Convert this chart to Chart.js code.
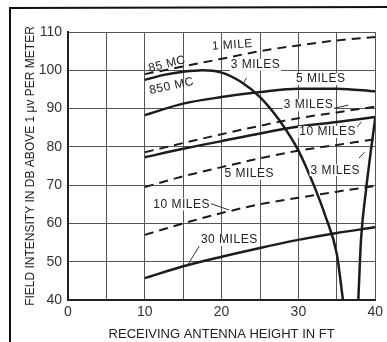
<!DOCTYPE html>
<html>
<head>
<meta charset="utf-8">
<script src="https://cdn.jsdelivr.net/npm/chart.js@4.4.1/dist/chart.umd.min.js"></script>
<style>
  html, body { margin: 0; padding: 0; background: #fff; }
  #wrap { width: 387px; height: 342px; }
</style>
</head>
<body>
<div id="wrap"><canvas id="myChart" width="387" height="342"></canvas></div>
<script>
// antenna height (ft) for the smooth curves
var heights = [10, 15, 20, 25, 30, 35, 40];

// 85 MC (dashed)
var oneMile85 = [99, 101, 103, 105, 106.5, 107.8, 108.7];
var threeMiles85 = [78.6, 81, 83.3, 85.5, 87.5, 89, 90.5];
var fiveMiles85 = [69.5, 72.3, 74.7, 77, 79, 80.5, 82];
var tenMiles85 = [57, 60, 62.7, 65, 66.7, 68.3, 69.8];

// 850 MC (solid)
var fiveMiles850 = [88.3, 91.3, 93, 94.3, 95.2, 95.2, 94.5];
var tenMiles850 = [77.3, 79.5, 81.5, 83.5, 85.3, 86.5, 87.8];
var thirtyMiles850 = [45.7, 48.8, 51.3, 53.6, 55.7, 57.5, 59];

// 3 miles at 850 MC lobes, null near 37 ft
var lobeHeights = [10, 12.5, 15, 17.5, 20, 22.5, 25, 27.5, 30, 32, 33.5, 35, 35.8, 37, 37.8, 38.15, 38.8, 39.45, 40];
var threeMiles850 = [97.5, 98.8, 99.6, 100, 99.4, 97, 93, 87, 79, 70, 62, 52, 40, null, 40, 55.7, 68.7, 79.2, 87.5];

// tick labels
var xTicks = [0, 10, 20, 30, 40];
var yTicks = [40, 50, 60, 70, 80, 90, 100, 110];

// curve labels on the plot (in ft / dB)
var noteText = ['1 MILE', '85 MC', '850 MC', '3 MILES', '5 MILES', '3 MILES', '10 MILES', '3 MILES', '5 MILES', '10 MILES', '30 MILES'];
var noteX = [21.4, 12.9, 13.5, 24.4, 32.9, 31.3, 33.8, 34.8, 23.6, 14.8, 21];
var noteY = [106.6, 101.6, 95.9, 101.4, 97.7, 90.9, 83.9, 73.9, 72.9, 65, 55.7];
var noteRot = [-4, -14, -12, 0, 0, 0, 0, 0, 0, 0, 0];

// little pointer lines from labels to curves
var arrowFrom = [[23.25, 98.0], [34.7, 90.1], [37.5, 84.9], [37.9, 77.1], [18.4, 65.3], [17.1, 54.1]];
var arrowTo = [[22.86, 96.7], [36.5, 90.9], [38.2, 86.5], [38.6, 78.6], [21.0, 63.5], [15.5, 48.9]];

function pts(xs, ys) {
    return xs.map(function (x, i) { return { x: x, y: ys[i] }; });
}

var ink = '#1c1c1c';

function line(label, xs, ys, dashed) {
    return {
        label: label,
        data: pts(xs, ys),
        borderColor: ink,
        borderWidth: dashed ? 2 : 2.5,
        borderDash: dashed ? [9, 6] : [],
        pointRadius: 0,
        fill: false,
        spanGaps: false,
        cubicInterpolationMode: 'monotone'
    };
}

var paperPlugin = {
    id: 'paper',
    beforeDraw: function (chart) {
        var c = chart.ctx;
        c.save();
        c.fillStyle = '#fff';
        c.fillRect(0, 0, chart.width, chart.height);
        c.strokeStyle = '#111';
        c.lineWidth = 2;
        c.beginPath();
        c.moveTo(10, chart.height);
        c.lineTo(10, 8);
        c.lineTo(chart.width, 7);
        c.stroke();
        c.restore();
    },
    afterDatasetsDraw: function (chart) {
        var c = chart.ctx;
        var xs = chart.scales.x, ys = chart.scales.y;
        c.save();
        c.strokeStyle = '#333';
        c.lineWidth = 1;
        arrowFrom.forEach(function (a, i) {
            var b = arrowTo[i];
            c.beginPath();
            c.moveTo(xs.getPixelForValue(a[0]), ys.getPixelForValue(a[1]));
            c.lineTo(xs.getPixelForValue(b[0]), ys.getPixelForValue(b[1]));
            c.stroke();
        });
        c.font = '12px "Liberation Sans", Arial, sans-serif';
        c.letterSpacing = '0.5px';
        c.textAlign = 'center';
        c.textBaseline = 'middle';
        noteText.forEach(function (t, i) {
            var px = xs.getPixelForValue(noteX[i]);
            var py = ys.getPixelForValue(noteY[i]);
            c.save();
            c.translate(px, py);
            c.rotate(noteRot[i] * Math.PI / 180);
            var w = c.measureText(t).width;
            if (noteRot[i] === 0) {
                c.fillStyle = '#fff';
                c.fillRect(-w / 2 - 1, -6, w + 2, 12);
            }
            c.fillStyle = '#222';
            c.fillText(t, 0, 0);
            c.restore();
        });
        c.restore();
    }
};

var ctx = document.getElementById('myChart');

var graphique = new Chart(ctx.getContext('2d'), {
    type: 'line',
    data: {
        datasets: [
            line('1 mile 85 MC', heights, oneMile85, true),
            line('3 miles 85 MC', heights, threeMiles85, true),
            line('5 miles 85 MC', heights, fiveMiles85, true),
            line('10 miles 85 MC', heights, tenMiles85, true),
            line('3 miles 850 MC', lobeHeights, threeMiles850, false),
            line('5 miles 850 MC', heights, fiveMiles850, false),
            line('10 miles 850 MC', heights, tenMiles850, false),
            line('30 miles 850 MC', heights, thirtyMiles850, false)
        ]
    },
    options: {
        responsive: false,
        devicePixelRatio: 1,
        animation: false,
        layout: { padding: { left: 10, top: 32, right: 11, bottom: 0 } },
        plugins: { legend: { display: false }, tooltip: { enabled: false } },
        scales: {
            x: {
                type: 'linear',
                min: 0,
                max: 40,
                afterBuildTicks: function (s) {
                    s.ticks = [0, 5, 10, 15, 20, 25, 30, 35, 40].map(function (v) { return { value: v }; });
                },
                afterFit: function (s) { s.height = 42; },
                ticks: {
                    autoSkip: false,
                    maxRotation: 0,
                    padding: 4,
                    color: '#333',
                    font: { family: '"Liberation Sans", Arial, sans-serif', size: 14 },
                    callback: function (v) { return xTicks.indexOf(v) >= 0 ? String(v) : ''; }
                },
                grid: { color: '#555', lineWidth: 1, drawTicks: false },
                border: { color: '#222', width: 2 },
                title: {
                    display: true,
                    text: 'RECEIVING ANTENNA HEIGHT IN FT',
                    color: '#222',
                    font: { family: '"Liberation Sans", Arial, sans-serif', size: 13 },
                    padding: { top: 10, bottom: 0 }
                }
            },
            y: {
                min: 40,
                max: 110,
                afterBuildTicks: function (s) {
                    s.ticks = yTicks.map(function (v) { return { value: v }; });
                },
                afterFit: function (s) { s.width = 58; },
                ticks: {
                    padding: 6,
                    color: '#333',
                    font: { family: '"Liberation Sans", Arial, sans-serif', size: 14 }
                },
                grid: { color: '#555', lineWidth: 1, drawTicks: false },
                border: { color: '#222', width: 2 },
                title: {
                    display: true,
                    text: 'FIELD INTENSITY IN DB ABOVE 1 \u03bcv PER METER',
                    color: '#222',
                    font: { family: '"Liberation Sans", Arial, sans-serif', size: 12 },
                    padding: { top: 13, bottom: 0 }
                }
            }
        }
    },
    plugins: [paperPlugin]
});
</script>
</body>
</html>
